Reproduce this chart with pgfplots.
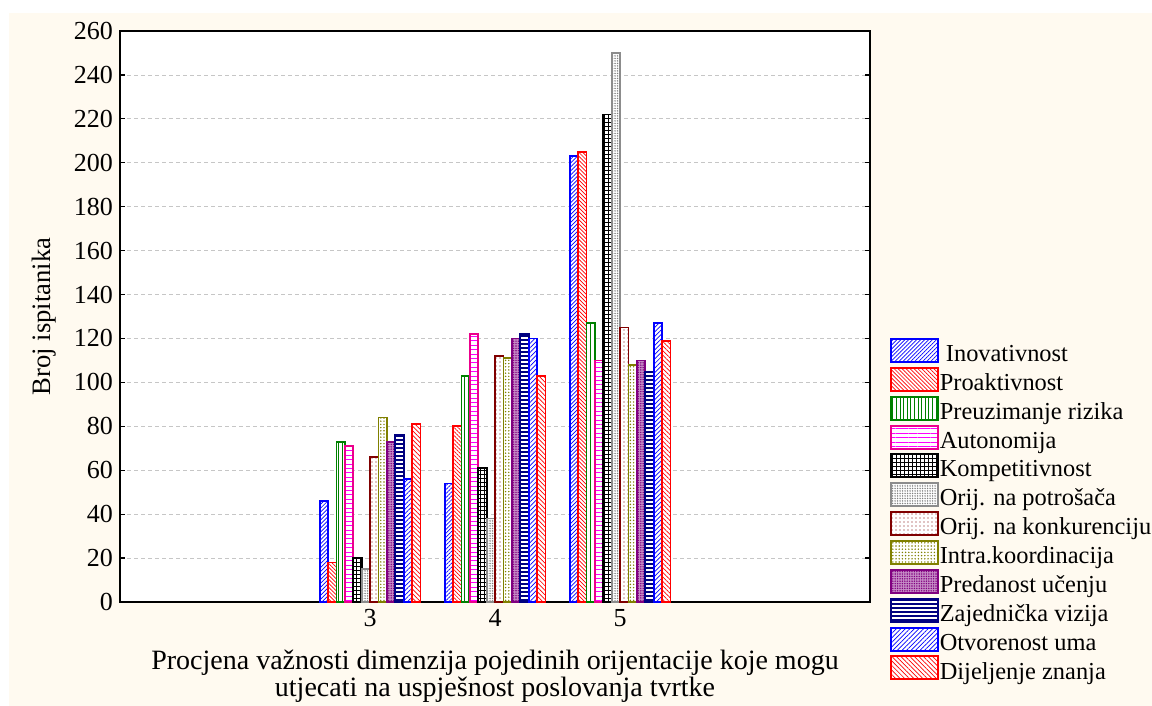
\documentclass[border=0pt]{standalone}
\usepackage{fontspec}
\setmainfont{Liberation Serif}
\usepackage{pgfplots}
\pgfplotsset{compat=1.18}
\usepackage{pgfplotstable}
\usetikzlibrary{patterns,patterns.meta}

\definecolor{cream}{RGB}{255,250,240}
\definecolor{dgreen}{RGB}{0,128,0}
\definecolor{maroonc}{RGB}{128,0,0}
\definecolor{olivec}{RGB}{128,128,0}
\definecolor{purplec}{RGB}{128,0,128}
\definecolor{navyc}{RGB}{0,0,128}

% broj ispitanika po ocjeni (3, 4, 5)
\pgfplotstableread{
x inov proak preuz auton kompet potr konk intra pred zajed otvor dijelj
3 46  18  73  71  20  15  66  84  73  76  56  81
4 54  80  103 122 61  38  112 111 120 122 120 103
5 203 205 127 110 222 250 125 108 110 105 127 119
}\data

\pgfplotsset{
  bb/.style={line width=0.9pt, fill=white,
    legend image code/.code={\draw[##1] (0pt,-3.5pt) rectangle (23.5pt,8pt);}},
}

\begin{document}
\begin{tikzpicture}
\fill[cream] (4.5pt,-6.5pt) rectangle (576pt,-353pt);
\begin{axis}[
  at={(60pt,-301pt)}, anchor=south west,
  scale only axis, width=375pt, height=285.5pt,
  axis background/.style={fill=white},
  ybar=0pt, bar width=4.2pt,
  xmin=1, xmax=7, ymin=0, ymax=260,
  xtick={3,4,5}, ytick={0,20,...,260},
  xtick style={draw=none},
  ytick pos=both, tick align=inside, major tick length=2.5pt,
  ytick style={line width=0.6pt, black},
  axis line style={line width=0.9pt},
  ymajorgrids,
  major grid style={gray!45, dash pattern=on 2pt off 1.5pt, line width=0.4pt},
  /pgf/number format/assume math mode=true,
  tick label style={font=\fontsize{13}{13.5}\selectfont},
  xlabel={Procjena važnosti dimenzija pojedinih orijentacije koje mogu\\utjecati na uspješnost poslovanja tvrtke},
  every axis x label/.style={at={(axis description cs:0.5,-0.1296)}, anchor=center},
  xlabel style={align=center, font=\fontsize{14}{13.5}\selectfont},
  ylabel={Broj ispitanika},
  every axis y label/.style={at={(axis description cs:-0.101,0.5)}, rotate=90, anchor=center},
  ylabel style={font=\fontsize{13.3}{14}\selectfont},
  legend style={at={(1.0267,0.462)}, anchor=north west, draw=none, fill=none,
    font=\fontsize{12.2}{13}\selectfont, row sep=1.05pt, inner sep=0pt, outer sep=0pt,
    nodes={inner xsep=0.5pt, inner ysep=0pt}},
  legend cell align=left,
]
\addplot[bb, draw=blue, postaction={pattern={Lines[angle=45,distance=1.4pt,line width=0.35pt]}, pattern color=blue}] table[x=x,y=inov]{\data};
\addlegendentry{\ Inovativnost}
\addplot[bb, draw=red, postaction={pattern={Lines[angle=-45,distance=1.4pt,line width=0.35pt]}, pattern color=red}] table[x=x,y=proak]{\data};
\addlegendentry{Proaktivnost}
\addplot[bb, draw=dgreen, postaction={pattern={Lines[angle=90,distance=1.8pt,line width=0.4pt]}, pattern color=dgreen}] table[x=x,y=preuz]{\data};
\addlegendentry{Preuzimanje rizika}
\addplot[bb, draw=magenta, postaction={pattern={Lines[angle=0,distance=2.2pt,line width=0.4pt]}, pattern color=magenta}] table[x=x,y=auton]{\data};
\addlegendentry{Autonomija}
\addplot[bb, draw=black, postaction={pattern={Hatch[angle=0,distance=2pt,line width=0.4pt]}, pattern color=black}] table[x=x,y=kompet]{\data};
\addlegendentry{Kompetitivnost}
\addplot[bb, draw=gray!90, postaction={pattern={Dots[distance=1.25pt,radius=0.38pt]}, pattern color=gray}] table[x=x,y=potr]{\data};
\addlegendentry{Orij. na potrošača}
\addplot[bb, draw=maroonc, postaction={pattern={Dots[distance=2pt,radius=0.35pt]}, pattern color=maroonc}] table[x=x,y=konk]{\data};
\addlegendentry{Orij. na konkurenciju}
\addplot[bb, draw=olivec, postaction={pattern={Dots[distance=1.6pt,radius=0.4pt]}, pattern color=olivec}] table[x=x,y=intra]{\data};
\addlegendentry{Intra.koordinacija}
\addplot[bb, draw=purplec, fill=purplec!45!white, postaction={pattern={Dots[distance=1.2pt,radius=0.4pt]}, pattern color=purplec}] table[x=x,y=pred]{\data};
\addlegendentry{Predanost učenju}
\addplot[bb, draw=navyc, fill=navyc, postaction={pattern={Lines[angle=0,distance=2pt,line width=0.6pt]}, pattern color=white}] table[x=x,y=zajed]{\data};
\addlegendentry{Zajednička vizija}
\addplot[bb, draw=blue, postaction={pattern={Lines[angle=45,distance=1.6pt,line width=0.35pt]}, pattern color=blue}] table[x=x,y=otvor]{\data};
\addlegendentry{Otvorenost uma}
\addplot[bb, draw=red, postaction={pattern={Lines[angle=-45,distance=1.6pt,line width=0.35pt]}, pattern color=red}] table[x=x,y=dijelj]{\data};
\addlegendentry{Dijeljenje znanja}
\end{axis}
\pgfresetboundingbox
\useasboundingbox (0,0) rectangle (576pt,-353pt);
\end{tikzpicture}
\end{document}
